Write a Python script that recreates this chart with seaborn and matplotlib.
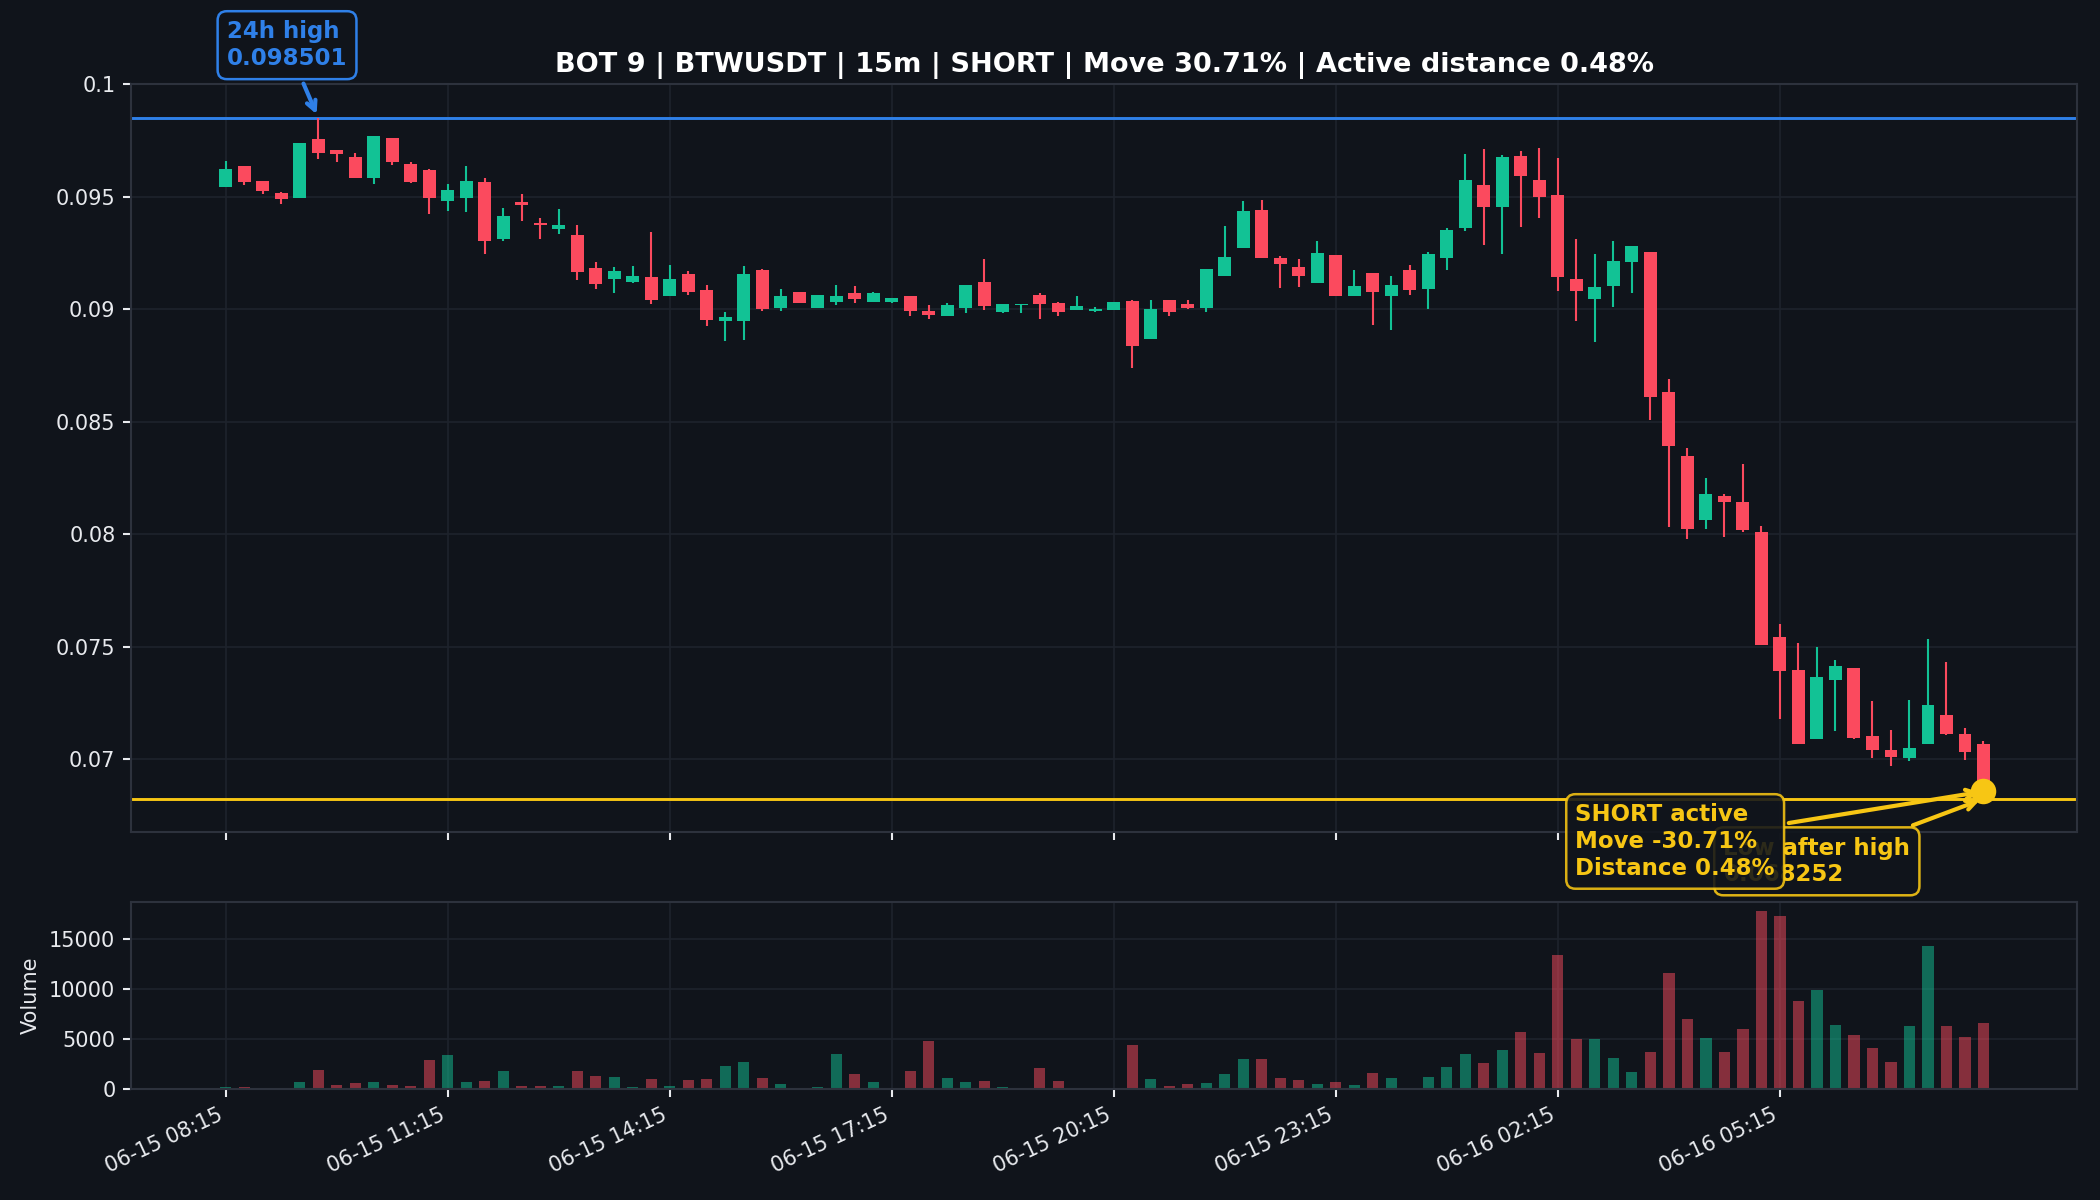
import numpy as np
import pandas as pd
import seaborn as sns
import matplotlib.pyplot as plt
from matplotlib.ticker import StrMethodFormatter

# 15m candles, 06-15 08:15 -> 06-16 08:00
start = '2024-06-15 08:15'

opens = [0.095418, 0.096388, 0.095716, 0.095179, 0.094955, 0.097552, 0.097104, 0.096791,
         0.095836, 0.097597, 0.096448, 0.096179, 0.094821, 0.094955, 0.095642, 0.093149,
         0.094776, 0.093836, 0.093552, 0.093313, 0.091821, 0.091358, 0.091224, 0.091418,
         0.090597, 0.091567, 0.090851, 0.089478, 0.089478, 0.091746, 0.090060, 0.090761,
         0.090060, 0.090328, 0.090746, 0.090328, 0.090328, 0.090612, 0.089940, 0.089701,
         0.090045, 0.091210, 0.089881, 0.090194, 0.090627, 0.090269, 0.089985, 0.089925,
         0.089985, 0.090358, 0.088672, 0.090433, 0.090254, 0.090045, 0.091493, 0.092746,
         0.094418, 0.092269, 0.091866, 0.091179, 0.092418, 0.090597, 0.091597, 0.090597,
         0.091731, 0.090896, 0.092299, 0.093612, 0.095507, 0.094567, 0.096836, 0.095731,
         0.095090, 0.091373, 0.090463, 0.091040, 0.092119, 0.092537, 0.086314, 0.083508,
         0.080627, 0.081724, 0.081457, 0.080108, 0.075424, 0.073957, 0.070903, 0.073527,
         0.074046, 0.071066, 0.070444, 0.070059, 0.070681, 0.071985, 0.071155, 0.070710]
highs = [0.096612, 0.096388, 0.095716, 0.095239, 0.097373, 0.098501, 0.097104, 0.096940,
         0.097687, 0.097597, 0.096567, 0.096224, 0.095582, 0.096388, 0.095851, 0.094522,
         0.095149, 0.094075, 0.094478, 0.093761, 0.092104, 0.091881, 0.091925, 0.093448,
         0.091970, 0.091687, 0.091075, 0.089866, 0.091925, 0.091791, 0.090896, 0.090761,
         0.090657, 0.091075, 0.091030, 0.090761, 0.090507, 0.090612, 0.090209, 0.090269,
         0.091075, 0.092239, 0.090254, 0.090254, 0.090731, 0.090328, 0.090582, 0.090090,
         0.090313, 0.090433, 0.090433, 0.090433, 0.090433, 0.091776, 0.093716, 0.094821,
         0.094881, 0.092373, 0.092224, 0.093030, 0.092418, 0.091731, 0.091597, 0.091478,
         0.091970, 0.092567, 0.093627, 0.096896, 0.097134, 0.096881, 0.097045, 0.097164,
         0.096716, 0.093134, 0.092463, 0.093030, 0.092806, 0.092537, 0.086896, 0.083851,
         0.082508, 0.081783, 0.083147, 0.080360, 0.076032, 0.075187, 0.074980, 0.074402,
         0.074076, 0.072578, 0.071289, 0.072623, 0.075335, 0.074342, 0.071378, 0.070844]
lows = [0.095418, 0.095522, 0.095119, 0.094672, 0.094955, 0.096687, 0.096552, 0.095836,
        0.095567, 0.096418, 0.095612, 0.094224, 0.094358, 0.094313, 0.092478, 0.093060,
        0.093910, 0.093149, 0.093358, 0.091313, 0.090910, 0.090731, 0.091179, 0.090239,
        0.090597, 0.090642, 0.089254, 0.088582, 0.088627, 0.089925, 0.089925, 0.090284,
        0.090060, 0.090209, 0.090284, 0.090328, 0.090284, 0.089701, 0.089567, 0.089701,
        0.089836, 0.089970, 0.089836, 0.089836, 0.089552, 0.089701, 0.089985, 0.089896,
        0.089985, 0.087388, 0.088672, 0.089701, 0.090015, 0.089881, 0.091493, 0.092746,
        0.092299, 0.090940, 0.091000, 0.091179, 0.090597, 0.090597, 0.089328, 0.089075,
        0.090642, 0.090000, 0.091746, 0.093463, 0.092866, 0.092463, 0.093642, 0.094075,
        0.090806, 0.089478, 0.088537, 0.090105, 0.090731, 0.085075, 0.080344, 0.079776,
        0.080254, 0.079886, 0.080123, 0.075083, 0.071778, 0.070681, 0.070903, 0.071259,
        0.070903, 0.070088, 0.069732, 0.069925, 0.070681, 0.071096, 0.069969, 0.068252]
closes = [0.096224, 0.095657, 0.095269, 0.094910, 0.097373, 0.096970, 0.096910, 0.095836,
          0.097687, 0.096552, 0.095657, 0.094955, 0.095284, 0.095687, 0.093060, 0.094164,
          0.094627, 0.093731, 0.093761, 0.091672, 0.091134, 0.091687, 0.091478, 0.090418,
          0.091373, 0.090761, 0.089522, 0.089672, 0.091567, 0.090000, 0.090582, 0.090284,
          0.090657, 0.090612, 0.090463, 0.090716, 0.090507, 0.089925, 0.089761, 0.090179,
          0.091075, 0.090149, 0.090254, 0.090254, 0.090239, 0.089896, 0.090149, 0.090030,
          0.090313, 0.088358, 0.090030, 0.089896, 0.090045, 0.091776, 0.092313, 0.094373,
          0.092299, 0.092030, 0.091493, 0.092507, 0.090597, 0.091060, 0.090776, 0.091104,
          0.090866, 0.092463, 0.093537, 0.095731, 0.094567, 0.096761, 0.095910, 0.095000,
          0.091448, 0.090821, 0.091015, 0.092134, 0.092806, 0.086119, 0.083926, 0.080254,
          0.081791, 0.081457, 0.080183, 0.075083, 0.073927, 0.070681, 0.073646, 0.074135,
          0.070963, 0.070444, 0.070103, 0.070518, 0.072400, 0.071155, 0.070340, 0.068580]
volumes = [235, 235, 40, 40, 738, 1946, 436, 638, 738, 436, 336, 2953,
           3457, 738, 839, 1846, 336, 336, 336, 1846, 1342, 1242, 235, 1040,
           336, 940, 1040, 2349, 2752, 1141, 537, 134, 235, 3557, 1544, 738,
           30, 1846, 4766, 1141, 738, 839, 235, 30, 2148, 839, 100, 134,
           134, 4396, 1040, 336, 537, 638, 1544, 3054, 3054, 1141, 940, 537,
           738, 436, 1644, 1141, 134, 1242, 2248, 3557, 2651, 3960, 5672, 3658,
           13424, 4967, 4967, 3155, 1745, 3759, 11612, 6980, 5068, 3759, 5974, 17854,
           17350, 8793, 9900, 6376, 5370, 4061, 2752, 6276, 14330, 6276, 5168, 6578]

high_24h = 0.098501
low_after_high = 0.068252
move_pct = 30.71
distance_pct = 0.48

times = pd.date_range(start, periods=len(opens), freq='15min')
df = pd.DataFrame({'time': times, 'open': opens, 'high': highs, 'low': lows,
                   'close': closes, 'volume': volumes})
df['x'] = np.arange(len(df))
df['dir'] = np.where(df['close'] >= df['open'], 'up', 'down')

bg = '#10141b'
up = '#12c295'
down = '#fb4a5e'
blue = '#2f80e8'
yellow = '#f7c614'
txt = '#e8eaee'

sns.set_theme(style='dark', rc={
    'figure.facecolor': bg, 'axes.facecolor': bg, 'axes.edgecolor': '#2d323d',
    'axes.labelcolor': txt, 'xtick.color': txt, 'ytick.color': txt, 'text.color': txt,
    'axes.grid': True, 'grid.color': '#1e232c', 'grid.linewidth': 0.8,
    'xtick.bottom': True, 'ytick.left': True, 'axes.linewidth': 1.0,
    'patch.edgecolor': 'none', 'patch.linewidth': 0,
})
plt.rcParams['font.family'] = ['DejaVu Sans']

fig = plt.figure(figsize=(14, 8), dpi=150)
ax = fig.add_axes([0.0624, 0.3067, 0.9267, 0.623])
axv = fig.add_axes([0.0624, 0.0925, 0.9267, 0.1558])

# candles
colors = df['dir'].map({'up': up, 'down': down})
ax.vlines(df['x'], df['low'], df['high'], color=colors, lw=1.0, zorder=2)
body_lo = df[['open', 'close']].min(axis=1)
body_h = (df['close'] - df['open']).abs().clip(lower=0.00004)
ax.bar(df['x'], body_h, bottom=body_lo, width=0.7, color=colors, edgecolor=colors,
       linewidth=0, zorder=3)

ax.axhline(high_24h, color=blue, lw=1.4, zorder=1)
ax.axhline(low_after_high, color=yellow, lw=1.4, zorder=1)
last = df.iloc[-1]
ax.scatter([last['x']], [last['close']], s=150, color=yellow, linewidths=0, zorder=6)

hi_idx = int(df['high'].idxmax())
ax.annotate(f'24h high\n{high_24h:.6f}', xy=(hi_idx, high_24h), xytext=(-15, 35),
            textcoords='offset points', ha='center', va='center', ma='left',
            color=blue, fontsize=11, fontweight='bold',
            bbox=dict(boxstyle='round,pad=0.4', fc=bg, ec=blue, lw=1.2),
            arrowprops=dict(arrowstyle='->', color=blue, lw=2))
ax.annotate(f'Low after high\n{low_after_high:.6f}', xy=(last['x'], low_after_high),
            xytext=(-80, -30), textcoords='offset points', ha='center', va='center',
            ma='left', color=yellow, fontsize=11, fontweight='bold', zorder=7,
            bbox=dict(boxstyle='round,pad=0.4', fc=bg, ec=yellow, lw=1.2, alpha=0.9),
            arrowprops=dict(arrowstyle='->', color=yellow, lw=2), annotation_clip=False)
ax.annotate(f'SHORT active\nMove -{move_pct:.2f}%\nDistance {distance_pct:.2f}%',
            xy=(last['x'], last['close']), xytext=(-148, -24), textcoords='offset points',
            ha='center', va='center', ma='left', color=yellow, fontsize=11,
            fontweight='bold', zorder=8,
            bbox=dict(boxstyle='round,pad=0.4', fc=bg, ec=yellow, lw=1.2, alpha=0.88),
            arrowprops=dict(arrowstyle='->', color=yellow, lw=2), annotation_clip=False)

ax.set_title(f'BOT 9 | BTWUSDT | 15m | SHORT | Move {move_pct:.2f}% | '
             f'Active distance {distance_pct:.2f}%', fontsize=13, fontweight='bold',
             color='white')

# volume
sns.barplot(data=df, x='x', y='volume', hue='dir', palette={'up': up, 'down': down},
            native_scale=True, dodge=False, width=0.6, alpha=0.5, saturation=1,
            errorbar=None, legend=False, linewidth=0, edgecolor='none', ax=axv)
axv.set_ylim(0, max(volumes) * 1.05)
axv.set_ylabel('Volume', fontsize=10)
axv.set_xlabel('')

xticks = list(range(0, len(df), 12))
for a in (ax, axv):
    a.set_xlim(-5.12, 100.06)
    a.set_xticks(xticks)
    a.tick_params(labelsize=10, length=4, width=1)
    a.grid(True, color='#1e232c', lw=0.8)
    a.set_axisbelow(True)
ax.set_xticklabels([])
axv.set_xticklabels([df['time'][i].strftime('%m-%d %H:%M') for i in xticks],
                    rotation=25, ha='right')
ax.set_ylim(0.06678, 0.1)
ax.set_yticks(np.arange(0.07, 0.1001, 0.005))
ax.yaxis.set_major_formatter(StrMethodFormatter('{x:g}'))
axv.set_yticks([0, 5000, 10000, 15000])

fig.savefig('out.png', dpi=150, facecolor=bg)
